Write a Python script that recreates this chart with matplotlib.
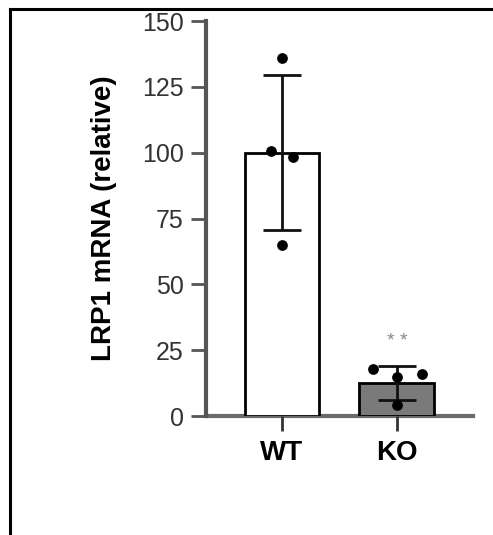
import matplotlib
matplotlib.use('Agg')
import matplotlib.pyplot as plt
from matplotlib.lines import Line2D

plt.rcParams['font.family'] = ['Liberation Sans', 'DejaVu Sans']

groups = ['WT', 'KO']
means = [100, 12.5]
sds = [29.5, 6.5]
points_wt = [136, 100.5, 98.5, 65]
points_ko = [17.7, 14.9, 16.0, 4.2]
jitter_wt = [0, -0.1, 0.1, 0]
jitter_ko = [-0.21, 0, 0.22, 0]
bar_colors = ['white', '#7a7a7a']
yticks = [0, 25, 50, 75, 100, 125, 150]

fig = plt.figure(figsize=(4.93, 5.35), dpi=100)

# frame around the panel (top and left only visible)
fig.add_artist(Line2D([0.02, 1.0], [0.983, 0.983], color='black', lw=2.2, transform=fig.transFigure))
fig.add_artist(Line2D([0.02, 0.02], [0.0, 0.983], color='black', lw=2.2, transform=fig.transFigure))

ax = fig.add_axes([0.418, 0.2224, 0.541, 0.7383])

x = list(range(len(groups)))
ax.bar(x, means, width=0.652, color=bar_colors, edgecolor='black', linewidth=2, zorder=2)
ax.errorbar(x, means, yerr=sds, fmt='none', ecolor='#111111', elinewidth=2,
            capsize=14, capthick=2, zorder=3)

ax.scatter([0 + j for j in jitter_wt], points_wt, s=45, color='black', zorder=4)
ax.scatter([1 + j for j in jitter_ko], points_ko, s=45, color='black', zorder=4)

ax.text(1, 25, '* *', ha='center', va='bottom', fontsize=14, color='#888888')

ax.set_xlim(-0.661, 1.661)
ax.set_ylim(0, 150)
ax.set_yticks(yticks)
ax.set_xticks(x)
ax.set_xticklabels(groups, fontsize=20, fontweight='bold')
ax.tick_params(axis='y', length=11, width=2, color='#555555', labelsize=18,
               labelcolor='#333333', pad=5)
ax.tick_params(axis='x', length=11, width=2, color='#333333', pad=6)

for s in ['top', 'right']:
    ax.spines[s].set_visible(False)
ax.spines['left'].set_color('#555555')
ax.spines['left'].set_linewidth(3)
ax.spines['bottom'].set_color('#6a6a6a')
ax.spines['bottom'].set_linewidth(3)
ax.spines['bottom'].set_zorder(1)

ax.set_ylabel('LRP1 mRNA (relative)', fontsize=20, fontweight='bold', labelpad=18)

fig.savefig('out.png', dpi=100)
